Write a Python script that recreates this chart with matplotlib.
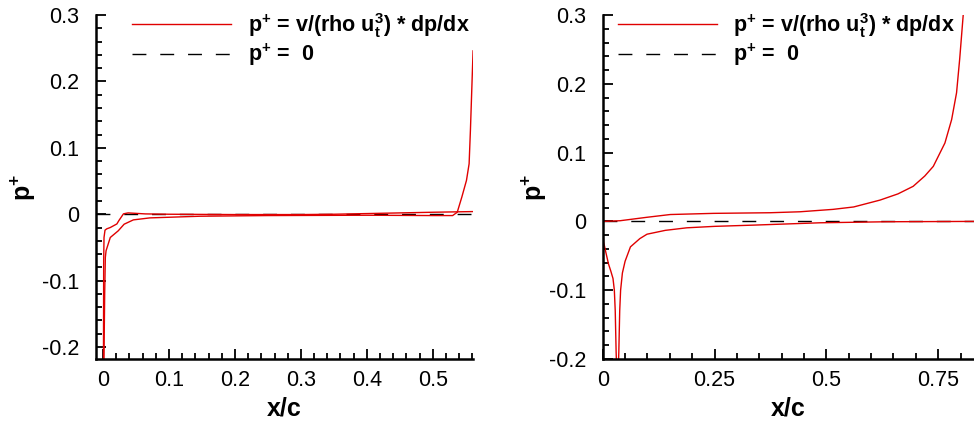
#----------------------------------------------------------------------
#   Imports
# ----------------------------------------------------------------------

import matplotlib
matplotlib.use('Agg')
import matplotlib.pyplot as plt
from matplotlib.ticker import MultipleLocator

plt.rcParams['font.family']        = ['Liberation Sans', 'DejaVu Sans']
plt.rcParams['mathtext.fontset']   = 'custom'
plt.rcParams['mathtext.rm']        = 'Liberation Sans:bold'
plt.rcParams['mathtext.it']        = 'Liberation Sans:bold'
plt.rcParams['mathtext.bf']        = 'Liberation Sans:bold'
plt.rcParams['axes.unicode_minus'] = False

#----------------------------------------------------------------------
#   Data
# ----------------------------------------------------------------------

# left case, two surfaces
xa_left = [0.0005, 0.001, 0.0015, 0.003, 0.0056, 0.011, 0.021, 0.024, 0.031, 0.038, 0.064,
           0.1, 0.2, 0.3, 0.35, 0.4, 0.45, 0.5, 0.56]
ya_left = [-0.3, -0.07, -0.035, -0.024, -0.022, -0.020, -0.0146, -0.0096, 0.0006, 0.002, 0.0005,
           0.0, -0.0005, -0.0005, 0.0, 0.001, 0.002, 0.003, 0.004]
xb_left = [0.0005, 0.0025, 0.0035, 0.0046, 0.011, 0.023, 0.032, 0.046, 0.071, 0.147, 0.25,
           0.4, 0.5, 0.53, 0.537, 0.544, 0.551, 0.555, 0.557, 0.561]
yb_left = [-0.3, -0.12, -0.065, -0.055, -0.035, -0.025, -0.015, -0.0085, -0.0055, -0.003, -0.002,
           -0.0015, -0.002, -0.002, 0.003, 0.026, 0.051, 0.076, 0.127, 0.246]

# right case, two surfaces
xa_right = [0.0, 0.039, 0.099, 0.151, 0.248, 0.374, 0.441, 0.515, 0.561, 0.620, 0.660, 0.694,
            0.720, 0.739, 0.765, 0.780, 0.791, 0.798, 0.806]
ya_right = [0.0, 0.001, 0.006, 0.010, 0.0117, 0.0126, 0.014, 0.0175, 0.021, 0.031, 0.040, 0.051,
            0.066, 0.080, 0.114, 0.148, 0.187, 0.236, 0.301]
xb_right = [0.0, 0.0005, 0.002, 0.007, 0.013, 0.018, 0.023, 0.026, 0.028, 0.030, 0.033, 0.036,
            0.038, 0.040, 0.044, 0.050, 0.062, 0.083, 0.099, 0.14, 0.188, 0.25, 0.337, 0.486,
            0.635, 0.83]
yb_right = [0.0, -0.013, -0.030, -0.045, -0.062, -0.072, -0.083, -0.10, -0.13, -0.19, -0.25, -0.19,
            -0.13, -0.10, -0.075, -0.058, -0.037, -0.025, -0.0186, -0.013, -0.0093, -0.0072, -0.0054,
            -0.002, -0.0005, 0.0]

yticks = [-0.2, -0.1, 0, 0.1, 0.2, 0.3]
ytick_labels = ['-0.2', '-0.1', '0', '0.1', '0.2', '0.3']
xticks_left = [0, 0.1, 0.2, 0.3, 0.4, 0.5]
xtick_labels_left = ['0', '0.1', '0.2', '0.3', '0.4', '0.5']
xticks_right = [0, 0.25, 0.5, 0.75]
xtick_labels_right = ['0', '0.25', '0.5', '0.75']

label_pplus = r'$\mathrm{p}^{+}$ = v/(rho $\mathrm{u}_{t}^{3}$) * dp/dx'
label_zero  = r'$\mathrm{p}^{+}$ =  0'

#----------------------------------------------------------------------
#   Plot
# ----------------------------------------------------------------------

def style_axis(ax, xmajor, xminor, ylabelpad):
    ax.spines['top'].set_visible(False)
    ax.spines['right'].set_visible(False)
    for s in ['left', 'bottom']:
        ax.spines[s].set_linewidth(1.8)
    ax.xaxis.set_major_locator(MultipleLocator(xmajor))
    ax.xaxis.set_minor_locator(MultipleLocator(xminor))
    ax.yaxis.set_major_locator(MultipleLocator(0.1))
    ax.yaxis.set_minor_locator(MultipleLocator(0.02))
    ax.tick_params(which='both', direction='in', top=False, right=False, labelsize=15.5, width=1.3)
    ax.tick_params(which='major', length=7)
    ax.tick_params(which='minor', length=4)
    ax.tick_params(axis='y', which='major', pad=12)
    ax.tick_params(axis='x', which='major', pad=8)
    ax.set_xlabel('x/c', fontsize=18, fontweight='bold', labelpad=4)
    ax.set_ylabel(r'$\mathrm{p}^{+}$', fontsize=18, labelpad=ylabelpad)


def draw_panel(ax, xa, ya, xb, yb, x0, x1, y0, y1):
    ax.plot(xa, ya, '-', color='#e00000', lw=1.0, label=label_pplus)
    ax.plot(xb, yb, '-', color='#e00000', lw=1.0)
    ax.plot([x0, x1], [0, 0], color='black', lw=1.0, dashes=(10, 10), label=label_zero, zorder=1)
    ax.set_xlim(x0, x1)
    ax.set_ylim(y0, y1)


fig = plt.figure(figsize=(9.74, 4.23), dpi=100)
ax1 = fig.add_axes([0.0986, 0.1513, 0.3871, 0.8132])
ax2 = fig.add_axes([0.6188, 0.1513, 0.3812, 0.8132])

draw_panel(ax1, xa_left, ya_left, xb_left, yb_left, -0.0106, 0.561, -0.218, 0.3)
style_axis(ax1, 0.1, 0.02, 3)
ax1.set_xticks(xticks_left)
ax1.set_xticklabels(xtick_labels_left)
ax1.set_yticks(yticks)
ax1.set_yticklabels(ytick_labels)

draw_panel(ax2, xa_right, ya_right, xb_right, yb_right, 0.0, 0.83, -0.2, 0.3)
style_axis(ax2, 0.25, 0.05, 0)
ax2.set_xticks(xticks_right)
ax2.set_xticklabels(xtick_labels_right)
ax2.set_yticks(yticks)
ax2.set_yticklabels(ytick_labels)

for ax, xl in [(ax1, 0.085), (ax2, 0.03)]:
    ax.legend(loc='upper left', bbox_to_anchor=(xl, 1.025), frameon=False,
              prop={'weight': 'bold', 'size': 15.5}, handlelength=4.6,
              handletextpad=0.75, labelspacing=0.1, borderaxespad=0, borderpad=0.2)

fig.savefig('out.png', dpi=100)
